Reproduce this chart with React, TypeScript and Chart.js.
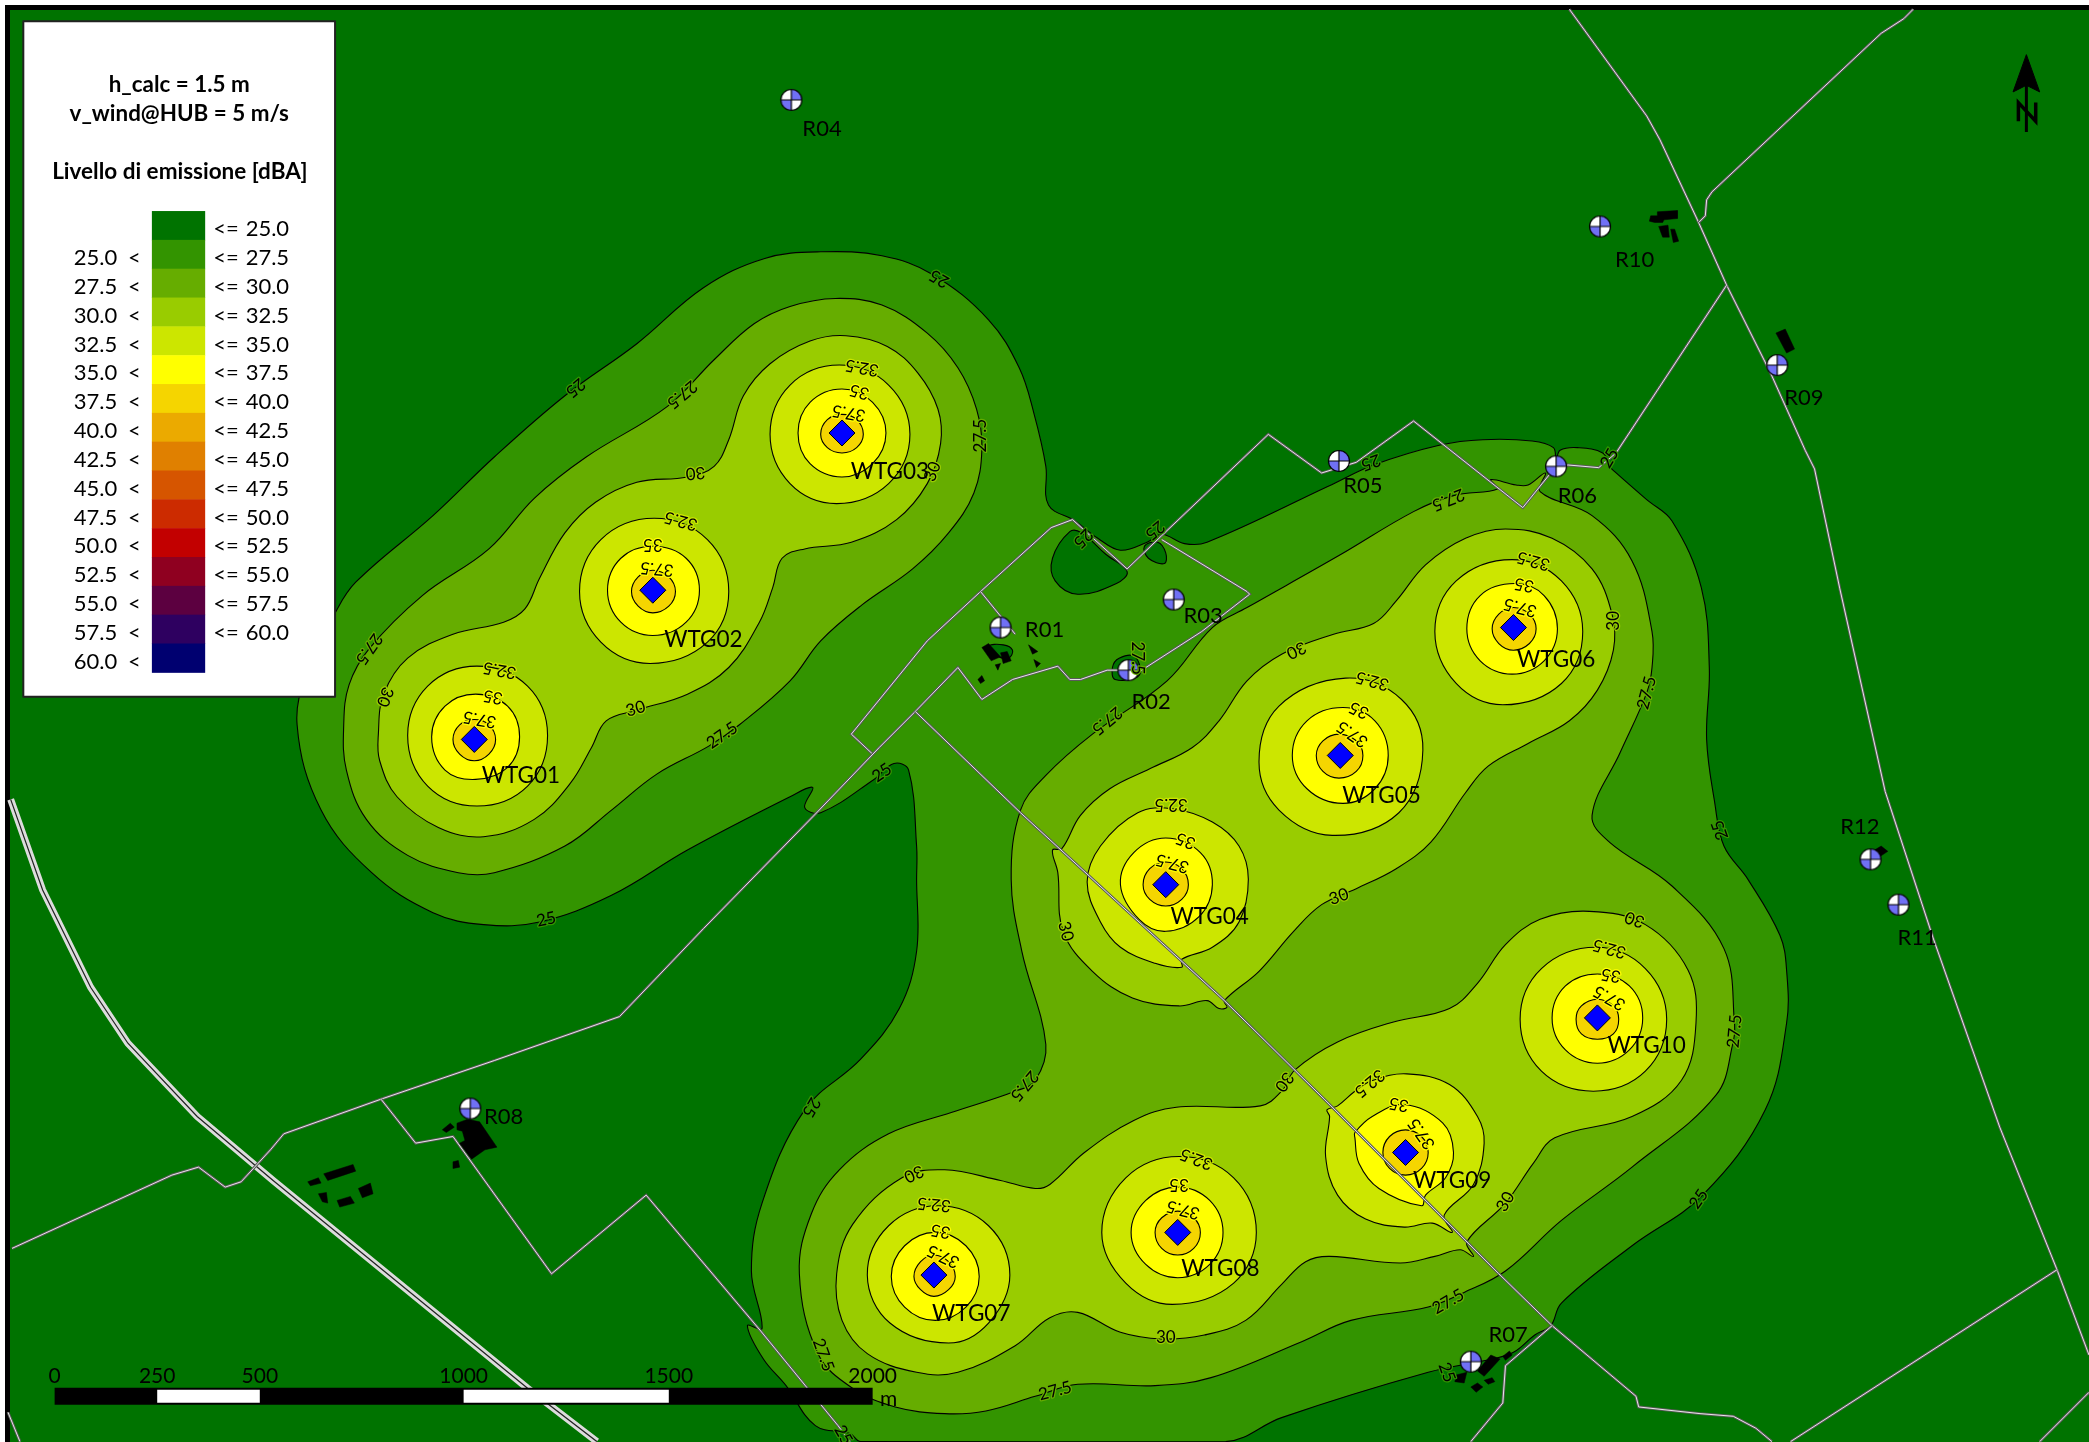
import React, { useEffect, useRef } from "react";
import { Chart, registerables } from "chart.js";

Chart.register(...registerables);

type P = number[];
const FONT = "Lato, 'Open Sans', sans-serif";

// ---- noise bands (legend) ----
const legendLevels = ["25.0", "27.5", "30.0", "32.5", "35.0", "37.5", "40.0", "42.5", "45.0", "47.5", "50.0", "52.5", "55.0", "57.5", "60.0"];
const legendColors = ["#007300", "#339400", "#66AD00", "#99CC00", "#CCE600", "#FFFF00", "#F5D500", "#EBAA00", "#E08000", "#D65500", "#CC2B00", "#C20000", "#8F0020", "#5C0040", "#2E0060", "#000070"];
const legendTitle = ["h_calc = 1.5 m", "v_wind@HUB = 5 m/s"];
const legendHeading = "Livello di emissione [dBA]";

// ---- contour polygons (map units) ----
const c25: P[] = [[223,544],[232,500],[251,461],[267,437],[325,387],[371,343],[424,297],[478,258],[528,216],[574,194],[616,189],[662,192],[700,206],[742,240],[765,276],[776,310],[785,350],[787,379],[807,391],[824,404],[841,413],[861,407],[872,401],[889,408],[906,407],[997,365],[1031,349],[1081,334],[1113,330],[1150,331],[1166,336],[1168,345],[1171,338],[1184,336],[1203,340],[1208,350],[1212,354],[1236,375],[1255,391],[1277,441],[1283,501],[1281,555],[1287,602],[1294,635],[1312,660],[1336,702],[1341,728],[1341,768],[1325,833],[1278,897],[1225,935],[1172,978],[1164,995],[1152,1002],[1136,1015],[1120,1020],[1072,1030],[962,1064],[920,1082],[646,1082],[638,1076],[612,1070],[590,1040],[573,1020],[561,995],[572,997],[564,954],[572,903],[604,833],[646,795],[675,757],[688,714],[688,660],[688,635],[682,578],[671,573],[656,585],[616,610],[604,606],[610,591],[593,598],[516,638],[459,672],[405,692],[363,694],[325,685],[279,655],[241,608],[223,544]];
const c25holeBig: P[] = [[790,419],[803,399],[812,400],[830,416],[846,429],[838,438],[809,446],[792,436],[790,419]];
const c25holeSmall: P[] = [[859,410],[869,407],[875,415],[874,423],[862,419],[859,410]];
const c25holeR02: P[] = [[835,501],[840,494],[852,493],[855,507],[837,510],[835,501]];
const c25holeR01: P[] = [[742,485],[753,484],[760,488],[757,494],[748,492],[742,485]];

const c275West: P[] = [[258,544],[262,514],[277,487],[317,447],[367,412],[401,374],[440,343],[501,305],[536,270],[566,243],[593,230],[627,224],[662,229],[696,250],[719,276],[733,307],[737,337],[731,370],[712,400],[685,427],[647,454],[616,481],[593,511],[555,544],[532,560],[493,581],[459,608],[424,635],[371,655],[344,655],[306,642],[275,615],[260,578],[258,544]];
const c275East: P[] = [[766,608],[785,582],[820,551],[876,511],[910,471],[936,456],[1005,417],[1061,384],[1091,372],[1124,367],[1119,360],[1138,364],[1147,364],[1160,355],[1156,369],[1195,387],[1225,421],[1240,474],[1240,501],[1236,520],[1216,565],[1195,612],[1208,632],[1255,665],[1294,712],[1302,769],[1301,782],[1288,822],[1225,876],[1172,916],[1130,954],[1099,970],[1072,981],[1014,991],[977,1007],[909,1034],[867,1040],[809,1039],[777,1048],[740,1059],[709,1061],[672,1056],[640,1042],[614,1016],[600,956],[609,911],[630,878],[667,851],[714,835],[762,819],[777,811],[785,784],[767,714],[759,660],[766,608]];

const c30West: P[] = [[284,551],[288,521],[306,494],[340,476],[378,467],[394,457],[405,434],[424,400],[447,377],[478,362],[516,358],[536,350],[547,330],[558,297],[578,273],[608,256],[635,252],[666,260],[689,280],[704,307],[706,333],[696,363],[673,390],[639,407],[604,412],[587,419],[580,441],[570,467],[547,501],[516,521],[478,533],[455,541],[444,561],[428,588],[401,615],[363,628],[329,621],[298,598],[285,571],[284,551]];
const c30North: P[] = [[797,637],[811,612],[833,592],[863,577],[895,561],[915,541],[936,511],[962,491],[1001,476],[1031,468],[1048,451],[1070,424],[1100,404],[1130,397],[1165,404],[1195,427],[1210,461],[1211,488],[1199,518],[1178,541],[1147,558],[1117,575],[1100,595],[1074,632],[1048,652],[1018,667],[992,679],[971,699],[945,729],[919,751],[921,756],[915,757],[906,751],[885,755],[850,749],[820,729],[798,699],[794,655],[790,638],[797,637]];
const c30South: P[] = [[972,803],[1004,782],[1046,767],[1088,757],[1109,738],[1130,709],[1156,690],[1193,684],[1235,694],[1267,728],[1273,768],[1262,811],[1225,838],[1167,854],[1151,873],[1130,903],[1101,932],[1106,943],[1096,938],[1077,943],[1051,948],[998,943],[980,947],[962,964],[935,991],[904,1002],[872,1005],[841,1000],[809,985],[788,989],[762,1010],[719,1030],[688,1030],[651,1016],[632,991],[628,956],[640,919],[677,884],[709,878],[751,886],[777,892],[788,889],[814,865],[851,841],[883,831],[946,830],[962,819],[972,803]];

const c325: P[][] = [
  [[358,500],[396,515],[411,552],[396,590],[358,605],[321,590],[306,552],[321,515],[358,500]],
  [[491,389],[531,405],[547,444],[531,482],[488,498],[451,482],[435,444],[451,405],[491,389]],
  [[630,274],[667,289],[683,326],[667,363],[628,378],[593,363],[578,326],[593,289],[630,274]],
  [[816,662],[826,635],[854,610],[880,607],[910,617],[930,635],[937,660],[930,692],[910,711],[887,720],[887,726],[867,723],[841,711],[826,692],[816,662]],
  [[1010,509],[1052,525],[1068,563],[1050,610],[1000,627],[960,608],[945,572],[960,530],[1010,509]],
  [[1135,420],[1172,436],[1188,474],[1172,513],[1128,529],[1093,513],[1077,474],[1093,436],[1135,420]],
  [[704,905],[742,920],[758,957],[742,993],[712,1008],[668,993],[651,957],[667,920],[704,905]],
  [[885,868],[926,884],[943,925],[926,963],[880,979],[845,963],[827,925],[845,884],[885,868]],
  [[995,868],[998,838],[996,833],[1004,830],[1017,819],[1030,811],[1056,806],[1088,814],[1109,838],[1114,858],[1106,889],[1084,912],[1090,925],[1075,918],[1054,921],[1025,915],[1004,897],[995,868]],
  [[1198,711],[1235,727],[1251,765],[1235,804],[1196,819],[1157,804],[1141,765],[1157,727],[1198,711]],
];
const c35: P[][] = [
  [[357,521],[381,530],[390,553],[381,576],[357,585],[334,578],[324,553],[334,530],[357,521]],
  [[490,410],[515,419],[525,443],[515,467],[490,477],[466,467],[456,443],[466,419],[490,410]],
  [[632,292],[655,302],[665,325],[655,348],[632,358],[608,348],[599,325],[608,302],[632,292]],
  [[875,629],[901,640],[910,664],[900,688],[875,699],[855,690],[841,664],[851,640],[875,629]],
  [[1008,531],[1032,541],[1042,567],[1032,592],[1008,603],[981,592],[970,567],[981,541],[1008,531]],
  [[1137,438],[1159,447],[1169,472],[1159,496],[1135,506],[1111,496],[1101,472],[1111,447],[1137,438]],
  [[702,925],[725,935],[735,958],[725,981],[702,991],[679,981],[669,958],[679,935],[702,925]],
  [[884,891],[908,901],[918,925],[908,949],[884,959],[860,949],[849,925],[860,901],[884,891]],
  [[1017,854],[1020,873],[1035,892],[1067,905],[1070,897],[1085,884],[1091,865],[1083,843],[1054,829],[1030,838],[1017,850],[1017,854]],
  [[1199,731],[1223,740],[1233,764],[1223,788],[1199,798],[1175,788],[1165,764],[1175,740],[1199,731]],
];
const c375: P[][] = [
  [[356,540],[367,544],[372,555],[367,566],[356,571],[345,566],[340,555],[345,544],[356,540]],
  [[490,428],[502,433],[507,444],[502,455],[490,460],[479,455],[474,444],[479,433],[490,428]],
  [[632,311],[643,315],[648,326],[643,336],[632,340],[621,336],[616,326],[621,315],[632,311]],
  [[875,647],[887,652],[892,664],[887,675],[875,680],[863,675],[858,664],[863,652],[875,647]],
  [[1005,551],[1018,556],[1023,567],[1018,579],[1005,584],[993,579],[988,567],[993,556],[1005,551]],
  [[1136,456],[1148,461],[1153,472],[1148,483],[1136,488],[1125,483],[1120,472],[1125,461],[1136,456]],
  [[701,942],[712,947],[717,958],[712,968],[701,973],[691,968],[686,958],[691,947],[701,942]],
  [[884,909],[896,914],[901,925],[896,937],[884,942],[872,937],[867,925],[872,914],[884,909]],
  [[1055,848],[1067,853],[1072,865],[1067,877],[1055,882],[1043,877],[1038,865],[1043,853],[1055,848]],
  [[1199,750],[1211,755],[1215,765],[1211,776],[1199,780],[1187,776],[1183,765],[1187,755],[1199,750]],
];

// ---- roads ----
const mainRoad: P[] = [[8,600],[32,668],[68,741],[96,783],[148,838],[205,886],[396,1042],[448,1082]];
const roads: P[][] = [
  [[1178,7],[1236,87],[1246,105],[1275,167],[1296,214],[1329,280],[1355,338],[1362,352],[1381,442],[1415,594],[1451,704],[1501,846],[1544,953],[1568,1017]],
  [[1436,7],[1429,14],[1412,25],[1285,144],[1281,150],[1280,162],[1275,167]],
  [[655,566],[639,551],[696,481],[736,444],[789,396],[805,390],[846,427],[872,402],[952,326],[992,355],[1018,347],[1061,316],[1143,381],[1168,350],[1177,349],[1200,351],[1213,340],[1296,214]],
  [[872,405],[936,444],[938,446],[902,474],[857,503],[831,503],[811,510],[803,510],[794,500],[760,510],[737,525],[719,501],[687,534],[660,561],[612,611],[528,697],[465,763],[371,796],[286,825],[213,851],[203,863],[181,887],[169,891],[149,876],[129,882],[9,937]],
  [[687,534],[766,610],[919,751],[994,825],[1125,956],[1165,995],[1228,1048],[1230,1056],[1276,1061],[1301,1063],[1318,1072],[1330,1082]],
  [[736,444],[762,476]],
  [[286,825],[312,858],[340,853],[414,956],[485,897],[571,999],[629,1070],[638,1082]],
  [[1165,995],[1130,1025],[1128,1053],[1104,1082]],
  [[1544,953],[1344,1082]],
  [[1568,1045],[1531,1082]],
  [[6,1060],[15,1082]],
];

// ---- buildings ----
const buildings: P[][] = [
  [[1244,159],[1259,158],[1259,164],[1249,165],[1248,167],[1242,167],[1238,166],[1239,162],[1244,162],[1244,159]],
  [[1245,170],[1252,169],[1253,178],[1248,178],[1245,170]],
  [[1254,172],[1257,172],[1260,181],[1256,182],[1254,172]],
  [[1333,250],[1340,247],[1347,262],[1341,265],[1333,250]],
  [[332,848],[338,843],[341,846],[335,850],[332,848]],
  [[343,843],[351,840],[360,842],[373,861],[364,863],[354,870],[345,858],[349,856],[347,849],[343,848],[343,843]],
  [[340,872],[344,871],[345,876],[340,877],[340,872]],
  [[243,881],[265,874],[267,879],[246,886],[243,881]],
  [[231,887],[239,884],[241,888],[233,890],[231,887]],
  [[239,896],[245,895],[246,903],[242,902],[239,896]],
  [[253,901],[263,898],[266,903],[255,906],[253,901]],
  [[269,892],[278,888],[280,896],[272,899],[269,892]],
  [[737,486],[742,483],[751,493],[744,496],[737,486]],
  [[751,490],[756,489],[759,496],[753,498],[751,490]],
  [[747,499],[751,498],[749,503],[747,499]],
  [[734,510],[737,507],[739,511],[736,513],[734,510]],
  [[772,484],[779,489],[775,491],[772,484]],
  [[776,495],[781,498],[778,501],[776,495]],
  [[1093,1032],[1101,1030],[1099,1038],[1092,1037],[1093,1032]],
  [[1109,1029],[1119,1017],[1126,1020],[1114,1033],[1109,1029]],
  [[1128,1018],[1133,1014],[1135,1017],[1130,1021],[1128,1018]],
  [[1104,1041],[1109,1038],[1113,1041],[1108,1045],[1104,1041]],
  [[1114,1036],[1120,1034],[1122,1037],[1117,1039],[1114,1036]],
  [[1402,641],[1412,635],[1417,639],[1408,645],[1402,641]],
];

// ---- turbines and receptors ----
const turbineNames = ["WTG01", "WTG02", "WTG03", "WTG04", "WTG05", "WTG06", "WTG07", "WTG08", "WTG09", "WTG10"];
const turbineX = [356, 490, 632, 875, 1006, 1136, 701, 884, 1055, 1199];
const turbineY = [555, 443, 325, 664, 567, 471, 957, 925, 865, 764];
const turbineLabelX = [391, 528, 668, 908, 1037, 1168, 729, 916, 1090, 1236];
const turbineLabelY = [582, 480, 354, 688, 597, 495, 986, 952, 886, 785];

const receptorNames = ["R01", "R02", "R03", "R04", "R05", "R06", "R07", "R08", "R09", "R10", "R11", "R12"];
const receptorX = [751, 847, 881, 594, 1005, 1168, 1104, 353, 1334, 1201, 1425, 1404];
const receptorY = [471, 503, 450, 75, 346, 350, 1022, 832, 274, 170, 679, 645];
const receptorLabelX = [784, 864, 903, 617, 1023, 1184, 1132, 378, 1354, 1227, 1439, 1396];
const receptorLabelY = [473, 527, 462, 97, 365, 372, 1002, 838, 299, 195, 704, 621];

// ---- contour labels: x, y, level, rotation in degrees ----
const contourLabels: [number, number, string, number][] = [
  [705,209,"25",210],[432,291,"25",140],[512,296,"27.5",140],[736,327,"27.5",-90],[700,354,"30",-70],[522,355,"30",175],
  [647,276,"32.5",190],[645,294,"35",195],[637,310,"37.5",190],[511,391,"32.5",195],[490,409,"35",180],[493,427,"37.5",185],
  [375,503,"32.5",190],[370,523,"35",190],[360,540,"37.5",190],[289,523,"30",110],[277,487,"27.5",125],[410,690,"25",-12],
  [477,532,"30",-15],[542,552,"27.5",-35],[662,580,"25",-35],[1291,623,"25",250],[1236,520,"27.5",-75],[1302,774,"27.5",-85],
  [1211,466,"30",-90],[1227,690,"30",200],[1208,712,"32.5",195],[1209,732,"35",190],[1208,749,"37.5",210],[1087,375,"27.5",158],
  [1029,347,"25",160],[831,541,"27.5",140],[854,494,"27.5",90],[867,398,"25",140],[813,404,"25",135],[1208,344,"25",-60],
  [973,488,"30",155],[1151,421,"32.5",195],[1144,439,"35",190],[1141,456,"37.5",195],[1030,511,"32.5",195],[1020,533,"35",205],
  [1015,551,"37.5",215],[879,604,"32.5",180],[890,631,"35",200],[880,648,"37.5",195],[800,699,"30",76],[1005,673,"30",-20],
  [769,815,"27.5",130],[609,831,"25",120],[964,812,"30",125],[1028,813,"32.5",140],[1050,829,"35",190],[1067,851,"37.5",235],
  [1130,902,"30",-60],[1275,900,"25",-55],[1087,977,"27.5",-30],[792,1044,"27.5",-15],[875,1004,"30",0],[618,1017,"27.5",70],
  [1086,1030,"25",70],[633,1077,"25",60],[686,881,"30",155],[701,904,"32.5",185],[706,924,"35",190],[708,943,"37.5",205],
  [898,870,"32.5",200],[885,889,"35",180],[888,908,"37.5",195],
];
const labelHalo: Record<string, string> = { "25": "#339400", "27.5": "#66AD00", "30": "#99CC00", "32.5": "#CCE600", "35": "#FFFF00", "37.5": "#FFFF00" };

// ---- scale bar and north arrow ----
const scaleTicks = ["0", "250", "500", "1000", "1500", "2000"];
const scaleTickX = [41, 118, 195, 348, 502, 655];
const scaleY = 1048;
const northArrowHead: P[] = [[1521,41],[1531,69],[1521,64],[1511,69],[1521,41]];
const northArrowShaft: P[] = [[1521,60],[1521,99]];
const northN: P[] = [[1515,91],[1515,77],[1528,91],[1528,77]];

const pts = (a: P[]) => a.map(([x, y]) => ({ x, y }));

function receptorIcon() {
  const c = document.createElement("canvas");
  c.width = 24; c.height = 24;
  const g = c.getContext("2d")!;
  const m = 12, r = 10.5;
  g.beginPath(); g.arc(m, m, r, 0, Math.PI * 2); g.fillStyle = "#fff"; g.fill();
  g.fillStyle = "#7070F5";
  g.beginPath(); g.moveTo(m, m); g.arc(m, m, r, -Math.PI / 2, 0); g.closePath(); g.fill();
  g.beginPath(); g.moveTo(m, m); g.arc(m, m, r, Math.PI / 2, Math.PI); g.closePath(); g.fill();
  g.strokeStyle = "#000"; g.lineWidth = 1.2;
  g.beginPath(); g.arc(m, m, r, 0, Math.PI * 2); g.moveTo(m - r, m); g.lineTo(m + r, m); g.moveTo(m, m - r); g.lineTo(m, m + r); g.stroke();
  return c;
}

const overlay = {
  id: "mapOverlay",
  beforeDraw(chart: any) {
    const { ctx, width, height } = chart;
    ctx.save();
    ctx.fillStyle = "#fff"; ctx.fillRect(0, 0, width, height);
    ctx.fillStyle = "#000"; ctx.fillRect(5, 5, width, height);
    ctx.fillStyle = legendColors[0]; ctx.fillRect(10, 10, width, height);
    ctx.restore();
  },
  afterDatasetsDraw(chart: any) {
    const { ctx } = chart;
    const X = (v: number) => chart.scales.x.getPixelForValue(v);
    const Y = (v: number) => chart.scales.y.getPixelForValue(v);
    const S = X(1) - X(0);
    ctx.save();
    ctx.textBaseline = "middle";

    // contour labels
    ctx.textAlign = "center";
    ctx.font = `17px "Liberation Sans Narrow", ${FONT}`;
    ctx.lineJoin = "round";
    for (const [x, y, t, a] of contourLabels) {
      ctx.save();
      ctx.translate(X(x), Y(y));
      ctx.rotate((a * Math.PI) / 180);
      ctx.strokeStyle = labelHalo[t]; ctx.lineWidth = 2.5;
      ctx.strokeText(t, 0, 0);
      ctx.fillStyle = "#000";
      ctx.fillText(t, 0, 0);
      ctx.restore();
    }

    // names
    ctx.fillStyle = "#000";
    ctx.font = `22.5px ${FONT}`;
    turbineNames.forEach((n, i) => ctx.fillText(n, X(turbineLabelX[i]), Y(turbineLabelY[i])));
    ctx.font = `22px ${FONT}`;
    receptorNames.forEach((n, i) => ctx.fillText(n, X(receptorLabelX[i]), Y(receptorLabelY[i])));

    // scale bar text
    ctx.font = `21px ${FONT}`;
    scaleTicks.forEach((t, i) => ctx.fillText(t, X(scaleTickX[i]), Y(1033)));
    ctx.fillText("m", X(667), Y(1050));

    // legend
    const lx0 = X(17.5), ly0 = Y(16), lw = X(251.5) - lx0, lh = Y(523) - ly0;
    ctx.fillStyle = "#fff"; ctx.fillRect(lx0, ly0, lw, lh);
    ctx.strokeStyle = "#222"; ctx.lineWidth = 2; ctx.strokeRect(lx0, ly0, lw, lh);
    ctx.fillStyle = "#000";
    ctx.textAlign = "center";
    ctx.font = `bold 22.4px ${FONT}`;
    ctx.fillText(legendTitle[0], X(134.5), Y(63.5));
    ctx.fillText(legendTitle[1], X(134.5), Y(85.5));
    ctx.font = `bold 22.5px ${FONT}`;
    ctx.fillText(legendHeading, X(135), Y(129));
    const cellH = 21.64 * S;
    legendColors.forEach((c, i) => {
      ctx.fillStyle = c;
      ctx.fillRect(X(114), Y(158.4) + i * cellH, X(154) - X(114), cellH + 0.5);
    });
    ctx.fillStyle = "#000";
    ctx.font = `22px ${FONT}`;
    legendLevels.forEach((t, i) => {
      const yr = Y(172) + i * cellH;
      const yl = yr + cellH;
      ctx.textAlign = "left"; ctx.fillText("<=", X(160), yr);
      ctx.textAlign = "right"; ctx.fillText(t, X(217), yr);
      ctx.fillText(t, X(88), yl);
      ctx.textAlign = "left"; ctx.fillText("<", X(96), yl);
    });
    ctx.restore();
  },
};

export default function App() {
  const ref = useRef<HTMLCanvasElement>(null);
  useEffect(() => {
    document.body.style.margin = "0";
    const paint: any[] = [];
    // closed curves carry one extra point past each end so the spline has no kink where it closes;
    // those two end pieces are neither stroked nor filled
    const poly = (a: P[], fill: string, curve = true, lw = 1.1) => {
      const n = a.length + 2;
      const hide = (c: any) => (c.p0DataIndex === 0 || c.p1DataIndex === n - 1 ? "transparent" : undefined);
      paint.push({
        data: pts(curve ? [a[a.length - 2], ...a, a[1]] : a),
        showLine: true, fill: "shape", backgroundColor: fill, borderColor: "#000", borderWidth: lw, pointRadius: 0,
        tension: curve ? 0.38 : 0,
        ...(curve ? { segment: { borderColor: hide, backgroundColor: hide } } : {}),
      });
    };
    const line = (a: P[], color: string, w: number) =>
      paint.push({ data: pts(a), showLine: true, fill: false, borderColor: color, borderWidth: w, pointRadius: 0, tension: 0, borderCapStyle: "butt" });

    poly(c25, legendColors[1]);
    poly(c25holeBig, legendColors[0]);
    poly(c25holeSmall, legendColors[0]);
    poly(c25holeR02, legendColors[0]);
    poly(c25holeR01, legendColors[0]);
    poly(c275West, legendColors[2]);
    poly(c275East, legendColors[2]);
    poly(c30West, legendColors[3]);
    poly(c30North, legendColors[3]);
    poly(c30South, legendColors[3]);
    c325.forEach((r) => poly(r, legendColors[4]));
    c35.forEach((r) => poly(r, legendColors[5]));
    c375.forEach((r) => poly(r, legendColors[6]));

    line(mainRoad, "#dcdcdc", 7);
    line(mainRoad, "#222", 1.2);
    roads.forEach((r) => { line(r, "#5a5a5a", 2.8); line(r, "#e8e8e8", 1); });
    buildings.forEach((b) => poly(b, "#000", false, 0.5));

    // scale bar
    line([[scaleTickX[0], scaleY], [scaleTickX[5], scaleY]], "#000", 17);
    line([[scaleTickX[1], scaleY], [scaleTickX[2], scaleY]], "#fff", 13);
    line([[scaleTickX[3], scaleY], [scaleTickX[4], scaleY]], "#fff", 13);

    // north arrow
    poly(northArrowHead, "#000", false, 1);
    line(northArrowShaft, "#000", 3);
    line(northN, "#000", 3.5);

    // points
    paint.push({ data: turbineX.map((x, i) => ({ x, y: turbineY[i] })), showLine: false, pointStyle: "rectRot", pointRadius: 13, pointBackgroundColor: "#0000FF", pointBorderColor: "#000", pointBorderWidth: 1 });
    paint.push({ data: receptorX.map((x, i) => ({ x, y: receptorY[i] })), showLine: false, pointStyle: receptorIcon(), pointRadius: 11 });

    const chart = new Chart(ref.current!, {
      type: "scatter",
      data: { datasets: paint.slice().reverse() },
      options: {
        animation: false,
        responsive: false,
        devicePixelRatio: 1,
        events: [],
        layout: { padding: 0, autoPadding: false },
        scales: {
          x: { type: "linear", min: 0, max: 1568, display: false },
          y: { type: "linear", min: 0, max: 1082.3, reverse: true, display: false },
        },
        plugins: { legend: { display: false }, tooltip: { enabled: false }, filler: { propagate: false } },
      },
      plugins: [overlay],
    } as any);
    return () => chart.destroy();
  }, []);
  return (
    <div style={{ position: "absolute", left: 0, top: 0, width: 2089, height: 1442 }}>
      <canvas ref={ref} width={2089} height={1442} style={{ display: "block" }} />
    </div>
  );
}
